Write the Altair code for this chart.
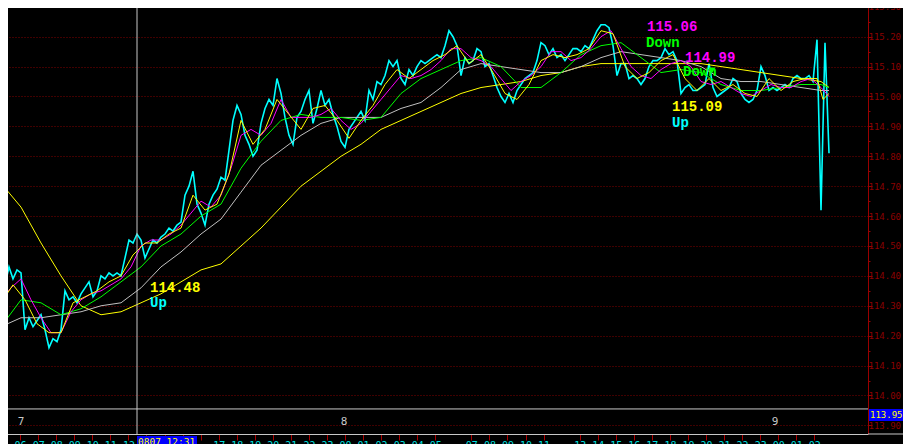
import altair as alt
import pandas as pd

# ---------------- data (time unit: 1 = 2 px; price bars every 2 units) ----------------
price_close = [
    114.32, 114.37, 114.43, 114.39, 114.42, 114.41, 114.22, 114.26, 114.23, 114.25,
    114.27, 114.22, 114.16, 114.19, 114.18, 114.22, 114.35, 114.32, 114.33, 114.31,
    114.34, 114.36, 114.38, 114.33, 114.35, 114.40, 114.39, 114.41, 114.40, 114.41,
    114.40, 114.46, 114.52, 114.51, 114.54, 114.52, 114.46, 114.49, 114.52, 114.51,
    114.53, 114.54, 114.56, 114.55, 114.57, 114.58, 114.67, 114.70, 114.75, 114.64,
    114.61, 114.57, 114.64, 114.67, 114.69, 114.73, 114.72, 114.82, 114.92, 114.97,
    114.94, 114.87, 114.84, 114.80, 114.82, 114.91, 114.96, 114.99, 114.97, 115.06,
    115.01, 114.93, 114.87, 114.84, 114.93, 114.95, 114.99, 115.02, 114.91, 114.96,
    115.02, 114.97, 114.99, 114.94, 114.90, 114.85, 114.83, 114.89, 114.91, 114.93,
    114.95, 114.92, 115.02, 114.99, 115.05, 115.04, 115.07, 115.12, 115.10, 115.12,
    115.06, 115.04, 115.09, 115.07, 115.10, 115.12, 115.11, 115.12, 115.13, 115.14,
    115.13, 115.17, 115.22, 115.20, 115.17, 115.07, 115.13, 115.11, 115.12, 115.16,
    115.15, 115.10, 115.11, 115.07, 115.03, 115.00, 114.98, 115.01, 114.98, 115.02,
    115.04, 115.06, 115.07, 115.08, 115.12, 115.18, 115.17, 115.14, 115.16, 115.13,
    115.14, 115.12, 115.14, 115.16, 115.16, 115.15, 115.17, 115.16, 115.19, 115.22,
    115.24, 115.24, 115.23, 115.17, 115.07, 115.11, 115.11, 115.06, 115.07, 115.06,
    115.04, 115.06, 115.10, 115.12, 115.12, 115.13, 115.16, 115.14, 115.15, 115.12,
    115.01, 115.03, 115.04, 115.02, 115.02, 115.03, 115.04, 115.11, 115.03, 115.00,
    115.01, 115.02, 115.03, 115.06, 115.05, 115.01, 114.99, 114.98, 114.99, 115.02,
    115.10, 115.07, 115.02, 115.03, 115.02, 115.03, 115.04, 115.03, 115.06, 115.07,
    115.06, 115.06, 115.07, 115.05, 115.19, 114.62, 115.18, 114.81,
]
price_t = [2 * i for i in range(len(price_close))]

ma_fast_yellow = [
    114.31, 114.37, 114.32, 114.24, 114.21, 114.21, 114.31, 114.33, 114.35, 114.38,
    114.40, 114.47, 114.51, 114.51, 114.54, 114.56, 114.67, 114.62, 114.64, 114.74,
    114.92, 114.84, 114.89, 114.99, 114.94, 114.89, 114.96, 114.97, 114.92, 114.86,
    114.92, 114.97, 115.04, 115.09, 115.06, 115.09, 115.12, 115.14, 115.17, 115.11,
    115.14, 115.08, 115.01, 114.99, 115.04, 115.12, 115.14, 115.13, 115.14, 115.16,
    115.22, 115.21, 115.10, 115.06, 115.08, 115.12, 115.14, 115.06, 115.02, 115.06,
    115.02, 115.04, 115.01, 115.00, 115.06, 115.02, 115.05, 115.06, 115.06, 114.99,
    115.01,
]
ma_fast_yellow_t = [6 * k for k in range(69)] + [411, 414]

ma_magenta = [
    114.32, 114.36, 114.39, 114.32, 114.26, 114.21, 114.21, 114.28, 114.32, 114.34,
    114.35, 114.37, 114.39, 114.43, 114.50, 114.52, 114.52, 114.54, 114.57, 114.61,
    114.65, 114.63, 114.67, 114.76, 114.87, 114.89, 114.87, 114.91, 114.99, 114.93,
    114.93, 114.93, 114.94, 114.96, 114.92, 114.89, 114.91, 114.95, 114.99, 115.03,
    115.07, 115.06, 115.07, 115.09, 115.12, 115.16, 115.16, 115.13, 115.12, 115.10,
    115.06, 115.02, 115.05, 115.07, 115.10, 115.15, 115.15, 115.12, 115.13, 115.16,
    115.20, 115.22, 115.16, 115.10, 115.07, 115.06, 115.09, 115.11, 115.12, 115.10,
    115.05, 115.04, 115.05, 115.03, 115.01, 115.00, 115.02, 115.04, 115.03, 115.03,
    115.05, 115.06, 115.03, 115.00,
]
ma_magenta_t = [5 * k for k in range(83)] + [414]

ma_green = [
    114.23, 114.32, 114.31, 114.27, 114.29, 114.33, 114.38, 114.43, 114.50, 114.54,
    114.60, 114.64, 114.76, 114.85, 114.92, 114.94, 114.93, 114.93, 114.92, 114.93,
    115.01, 115.06, 115.09, 115.12, 115.13, 115.10, 115.03, 115.03, 115.08, 115.14,
    115.17, 115.18, 115.13, 115.08, 115.09, 115.08, 115.04, 115.02, 115.02, 115.03,
    115.04, 115.04, 115.03,
]
ma_gray = [
    114.23, 114.26, 114.26, 114.27, 114.28, 114.30, 114.31, 114.36, 114.43, 114.48,
    114.54, 114.59, 114.68, 114.77, 114.82, 114.87, 114.91, 114.93, 114.93, 114.93,
    114.96, 114.98, 115.03, 115.09, 115.11, 115.10, 115.09, 115.08, 115.08, 115.10,
    115.13, 115.15, 115.14, 115.13, 115.12, 115.10, 115.06, 115.05, 115.05, 115.04,
    115.03, 115.02, 115.02,
]
ma_slow_yellow = [
    114.71, 114.63, 114.51, 114.40, 114.30, 114.27, 114.28, 114.31, 114.34, 114.38,
    114.42, 114.44, 114.50, 114.56, 114.63, 114.70, 114.75, 114.80, 114.84, 114.89,
    114.92, 114.95, 114.98, 115.01, 115.03, 115.04, 115.05, 115.07, 115.08, 115.10,
    115.11, 115.11, 115.11, 115.11, 115.11, 115.11, 115.10, 115.09, 115.08, 115.07,
    115.06, 115.05, 115.03,
]
ma_slow_t = [10 * k for k in range(42)] + [414]

y_ticks = [113.90, 113.95, 114.00, 114.05, 114.10, 114.15, 114.20, 114.25, 114.30,
           114.35, 114.40, 114.45, 114.50, 114.55, 114.60, 114.65, 114.70, 114.75,
           114.80, 114.85, 114.90, 114.95, 115.00, 115.05, 115.10, 115.15, 115.20,
           115.25, 115.30]

# hourly ticks on the time axis: hour offsets from the 8th 00:00 (one hour = 9.025 units)
hour_offsets = [k for k in range(-19, 27) if k not in (6, 12)]
DAY8_T = 172
UNITS_PER_HOUR = 9.025
x_ticks = [DAY8_T + UNITS_PER_HOUR * k for k in hour_offsets]

day_labels = ["7", "8", "9"]
day_label_t = [10, 171.5, 387]
day_label_price = [113.902, 113.902, 113.902]

ann_text = ["114.48", "Up", "115.06", "Down", "114.99", "Down", "115.09", "Up"]
ann_t = [74.5, 74.5, 323, 322.5, 342, 341, 335.5, 335.5]
ann_price = [114.346, 114.296, 115.218, 115.167, 115.117, 115.067, 114.950, 114.897]
ann_color = ["#ffff00", "#00ffff", "#ff00ff", "#00ff00", "#ff00ff", "#00ff00", "#ffff00", "#00ffff"]

cursor_t = 68
cursor_price = 113.955
cursor_time_label = "0807 12:31"
cursor_price_label = "113.95"

# ---------------- scales / axes ----------------
MAJOR = "round(datum.value*100) % 10 == 0"
xscale = alt.Scale(domain=[-0.5, 433.5], nice=False, zero=False)
yscale = alt.Scale(domain=[113.8712, 115.3227], nice=False, zero=False)

yaxis = alt.Axis(
    orient="right", values=y_ticks, title=None,
    domainColor="#990000", domainWidth=1,
    tickColor="#990000", tickWidth=1,
    tickSize={"condition": {"test": MAJOR, "value": 4}, "value": 2},
    labelExpr=f"{MAJOR} ? format(datum.value, '.2f') : ''",
    labelColor="#8b0000", labelFont="DejaVu Sans Mono", labelFontSize=9,
    labelPadding=-4, labelOverlap=False, labelFlush=False, labelBaseline="middle",
    grid=True, gridColor="#800000", gridDash=[1, 2], gridWidth=1,
    gridOpacity={"condition": {"test": MAJOR, "value": 1}, "value": 0},
)
hour_expr = f"((round((datum.value-{DAY8_T})/{UNITS_PER_HOUR}) % 24) + 24) % 24"
xaxis = alt.Axis(
    orient="bottom", values=x_ticks, title=None, grid=False,
    domainColor="#c8c8c8", domainWidth=1,
    tickColor="#aa0000", tickSize=6, tickWidth=1,
    labelExpr=(f"(datum.value > 65 && datum.value < 101) ? '' : "
               f"(({hour_expr} < 10 ? '0' : '') + {hour_expr})"),
    labelColor="#00e0e0", labelFont="DejaVu Sans Mono", labelFontSize=10,
    labelPadding=0, labelOverlap=False, labelFlush=False,
)


def X(field="t"):
    return alt.X(f"{field}:Q", scale=xscale, axis=xaxis)


def Y(field="price"):
    return alt.Y(f"{field}:Q", scale=yscale, axis=yaxis)


def line(t, vals, color, width=1.0):
    df = pd.DataFrame({"t": t, "price": vals})
    return alt.Chart(df).mark_line(color=color, strokeWidth=width, clip=True).encode(x=X(), y=Y())


price_layer = line(price_t, price_close, "#00ffff", 1.6)
fast_y = line(ma_fast_yellow_t, ma_fast_yellow, "#ffff00", 1.0)
mag = line(ma_magenta_t, ma_magenta, "#ff00ff", 1.0)
grn = line(ma_slow_t, ma_green, "#00ff00", 1.0)
gry = line(ma_slow_t, ma_gray, "#c0c0c0", 1.0)
slow_y = line(ma_slow_t, ma_slow_yellow, "#ffff00", 1.0)

# crosshair
vline = alt.Chart(pd.DataFrame({"t": [cursor_t]})).mark_rule(color="#c8c8c8", strokeWidth=1).encode(x=X())
hline = alt.Chart(pd.DataFrame({"price": [cursor_price]})).mark_rule(color="#c8c8c8", strokeWidth=1).encode(y=Y())
bottom_ext = alt.Chart(pd.DataFrame({"price": [113.8712]})).mark_rule(color="#c8c8c8", strokeWidth=1).encode(
    y=Y(), x=alt.value(868), x2=alt.value(911))

# day labels
days = alt.Chart(pd.DataFrame({"t": day_label_t, "price": day_label_price, "label": day_labels})).mark_text(
    color="#c8c8c8", font="DejaVu Sans Mono", fontSize=11, align="center", baseline="alphabetic"
).encode(x=X(), y=Y(), text="label:N")

# annotations
ann = alt.Chart(pd.DataFrame({"t": ann_t, "price": ann_price, "label": ann_text, "c": ann_color})).mark_text(
    font="Liberation Mono", fontWeight="bold", fontSize=14, align="left", baseline="alphabetic"
).encode(x=X(), y=Y(), text="label:N", color=alt.Color("c:N", scale=None))

marker = alt.Chart(pd.DataFrame({"t": [355.5], "price": [115.087]})).mark_point(
    shape="triangle-down", filled=True, color="#00ff00", size=45, opacity=1
).encode(x=X(), y=Y())

# price cursor box on the right axis
pbox = alt.Chart(pd.DataFrame({"price": [113.955], "price2": [113.915]})).mark_rect(color="#0000ff").encode(
    y=Y(), y2="price2:Q", x=alt.value(869), x2=alt.value(903))
ptext = alt.Chart(pd.DataFrame({"price": [113.935], "label": [cursor_price_label]})).mark_text(
    color="#ffff00", font="DejaVu Sans Mono", fontSize=9, align="left", baseline="middle"
).encode(y=Y(), x=alt.value(870), text="label:N")

# time cursor box on the bottom axis
tbox = alt.Chart(pd.DataFrame({"t": [cursor_t], "t2": [98], "price": [113.8646], "price2": [113.80]})).mark_rect(
    color="#0000ff").encode(x=X(), x2="t2:Q", y=Y(), y2="price2:Q")
ttext = alt.Chart(pd.DataFrame({"t": [cursor_t + 0.5], "price": [113.862], "label": [cursor_time_label]})).mark_text(
    color="#ffff00", font="DejaVu Sans Mono", fontSize=9.5, align="left", baseline="top"
).encode(x=X(), y=Y(), text="label:N")

chart = alt.layer(
    price_layer, slow_y, gry, grn, mag, fast_y,
    vline, hline, bottom_ext, days, ann, marker, pbox, ptext, tbox, ttext,
).properties(
    width=868, height=434, background="#000000",
    autosize=alt.AutoSizeParams(type="none"),
    padding={"left": -8, "top": -8, "right": 35, "bottom": 12},
).configure_view(strokeWidth=0)

chart.save("out.html", embed_options={"renderer": "svg", "actions": False})
